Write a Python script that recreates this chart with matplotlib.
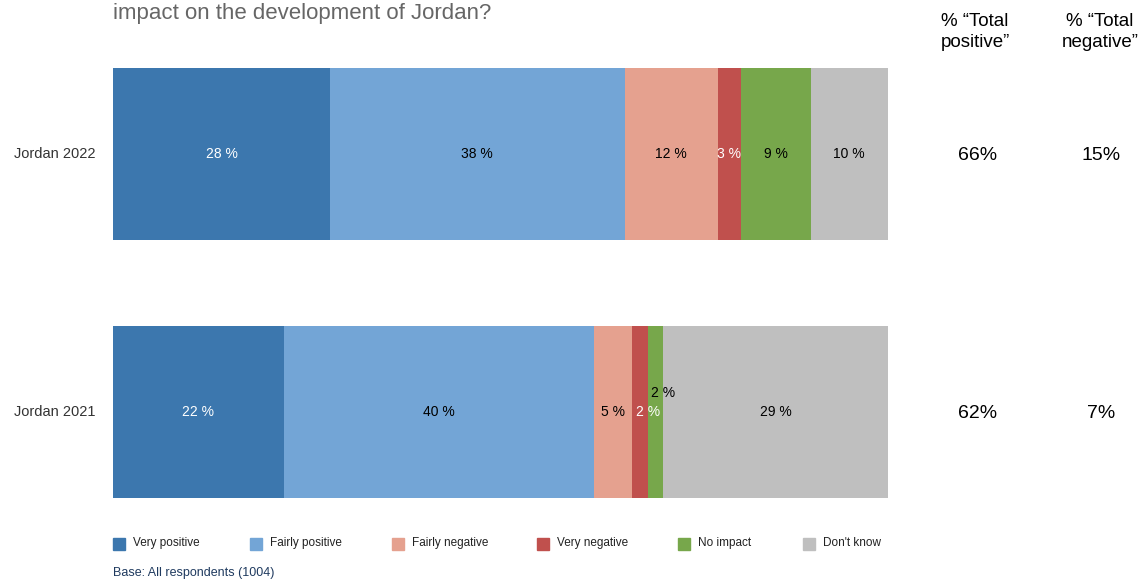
import matplotlib.pyplot as plt
from matplotlib.patches import Rectangle

plt.rcParams['font.family'] = ['Liberation Sans', 'DejaVu Sans']

rows = ['Jordan 2022', 'Jordan 2021']
categories = ['Very positive', 'Fairly positive', 'Fairly negative',
              'Very negative', 'No impact', "Don't know"]
colors = ['#3C77AE', '#73A5D6', '#E5A18F', '#C0504D', '#77A74B', '#BFBFBF']
very_positive = [28, 22]
fairly_positive = [38, 40]
fairly_negative = [12, 5]
very_negative = [3, 2]
no_impact = [9, 2]
dont_know = [10, 29]
total_positive = [66, 62]
total_negative = [15, 7]

# label colour per segment (dark segments get white text)
text_colors = ['white', 'black', 'black', 'white', 'black', 'black']

W, H = 1143, 581
fig = plt.figure(figsize=(W / 100, H / 100), dpi=100)
ax = fig.add_axes([113 / W, 1 - 498 / H, 775 / W, 430 / H])

series = [very_positive, fairly_positive, fairly_negative,
          very_negative, no_impact, dont_know]
ypos = range(len(rows))
left = [0] * len(rows)
for k, vals in enumerate(series):
    ax.barh(ypos, vals, left=left, height=2 / 3, color=colors[k], linewidth=0)
    for i, v in enumerate(vals):
        cx = left[i] + v / 2
        dy = 0
        dx = 0
        col = text_colors[k]
        # tiny segments in 2021 would overlap, nudge them
        if i == 1 and k == 3:
            dx = 8
        if i == 1 and k == 4:
            dx = 8
            dy = -19
        ax.annotate(f'{v} %', (cx, i), xytext=(dx, -dy), textcoords='offset pixels',
                    ha='center', va='center', fontsize=10, color=col)
    left = [l + v for l, v in zip(left, vals)]

ax.set_xlim(0, 100)
ax.set_ylim(1 + 1 / 3, -1 / 3)
ax.axis('off')

for i, name in enumerate(rows):
    ax.text(-2.3, i, name, ha='right', va='center', fontsize=10.5, color='#333333')

# right-hand summary columns
for i in range(len(rows)):
    yf = 1 - (155 + 258 * i) / H
    fig.text(978 / W, yf, f'{total_positive[i]}%', ha='center', va='center',
             fontsize=14, color='black')
    fig.text(1101 / W, yf, f'{total_negative[i]}%', ha='center', va='center',
             fontsize=14, color='black')
fig.text(975 / W, 1 - 32 / H, '% \u201cTotal\npositive\u201d', ha='center',
         va='center', fontsize=13.5, linespacing=1.25)
fig.text(1100 / W, 1 - 32 / H, '% \u201cTotal\nnegative\u201d', ha='center',
         va='center', fontsize=13.5, linespacing=1.25)

fig.text(113 / W, 1 - 14 / H, 'impact on the development of Jordan?',
         ha='left', va='center', fontsize=16, color='#666666')

# legend row
legend_x = [113, 250, 392, 537, 678, 803]
for x, name, c in zip(legend_x, categories, colors):
    fig.patches.append(Rectangle((x / W, 1 - 550 / H), 12 / W, 12 / H,
                                 transform=fig.transFigure, color=c))
    fig.text((x + 20) / W, 1 - 543 / H, name, ha='left', va='center',
             fontsize=8.5, color='#222222')

fig.text(113 / W, 1 - 573 / H, 'Base: All respondents (1004)', ha='left',
         va='center', fontsize=9, color='#1F3A5F')

fig.savefig('out.png', dpi=100)
